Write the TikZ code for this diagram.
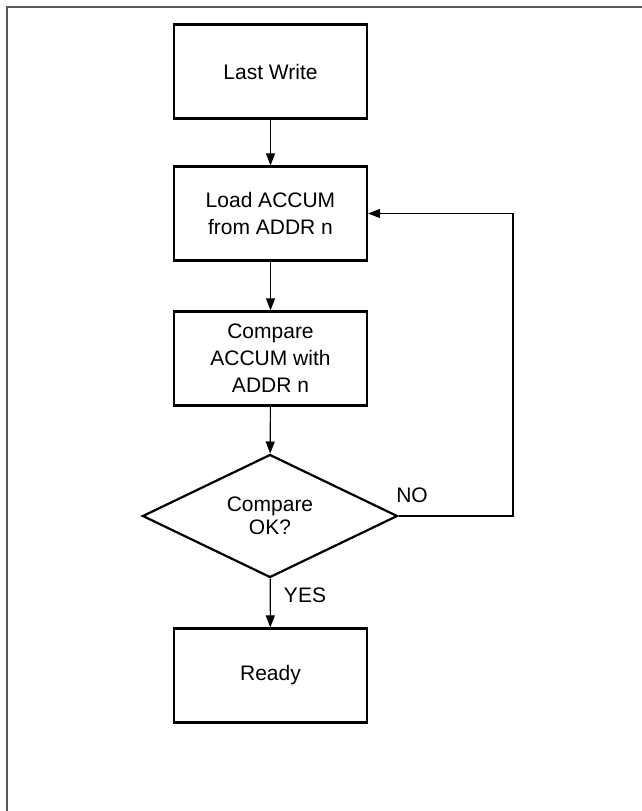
\documentclass[tikz,border=0pt]{standalone}
\usepackage{fontspec}
\setmainfont{Liberation Sans}
\usetikzlibrary{arrows.meta,shapes.geometric}
\begin{document}
\begin{tikzpicture}[x=1pt,y=-1pt,
  every node/.style={font=\fontsize{21}{27}\selectfont},
  procbox/.style={draw=black,line width=2.2pt,minimum width=193pt,minimum height=94pt,inner sep=0pt,align=center},
  decision/.style={diamond,draw=black,line width=2.2pt,minimum width=255pt,minimum height=123pt,inner sep=0pt,aspect=2.07,align=center,font=\fontsize{21}{23}\selectfont},
  flow/.style={line width=1.1pt,-{Triangle[length=12pt,width=9pt]}},
  lbl/.style={anchor=base,inner sep=0pt}]
\useasboundingbox (0,0) rectangle (642,811);
\draw[line width=1.6pt,draw=black!65] (7,811) -- (7,7) -- (642,7);
\node[procbox] (lw) at (270.5,71.5) {Last Write};
\node[procbox] (load) at (270.5,213.5) {Load ACCUM\\from ADDR n};
\node[procbox] (cmp) at (270.5,358.5) {Compare\\ACCUM with\\ADDR n};
\node[decision] (dia) at (270,516) {Compare\\OK?};
\node[procbox] (ready) at (270.5,675.5) {Ready};
\coordinate (fb) at (513,516);
\draw[flow] (lw) -- (load);
\draw[flow] (load) -- (cmp);
\draw[flow] (cmp) -- (dia);
\draw[flow] (dia) -- (ready);
\draw[flow] (dia.east) -- (fb) |- (load.east);
\node[lbl] (no) at (412,502) {NO};
\node[lbl] (yes) at (305,602) {YES};
\end{tikzpicture}
\end{document}
